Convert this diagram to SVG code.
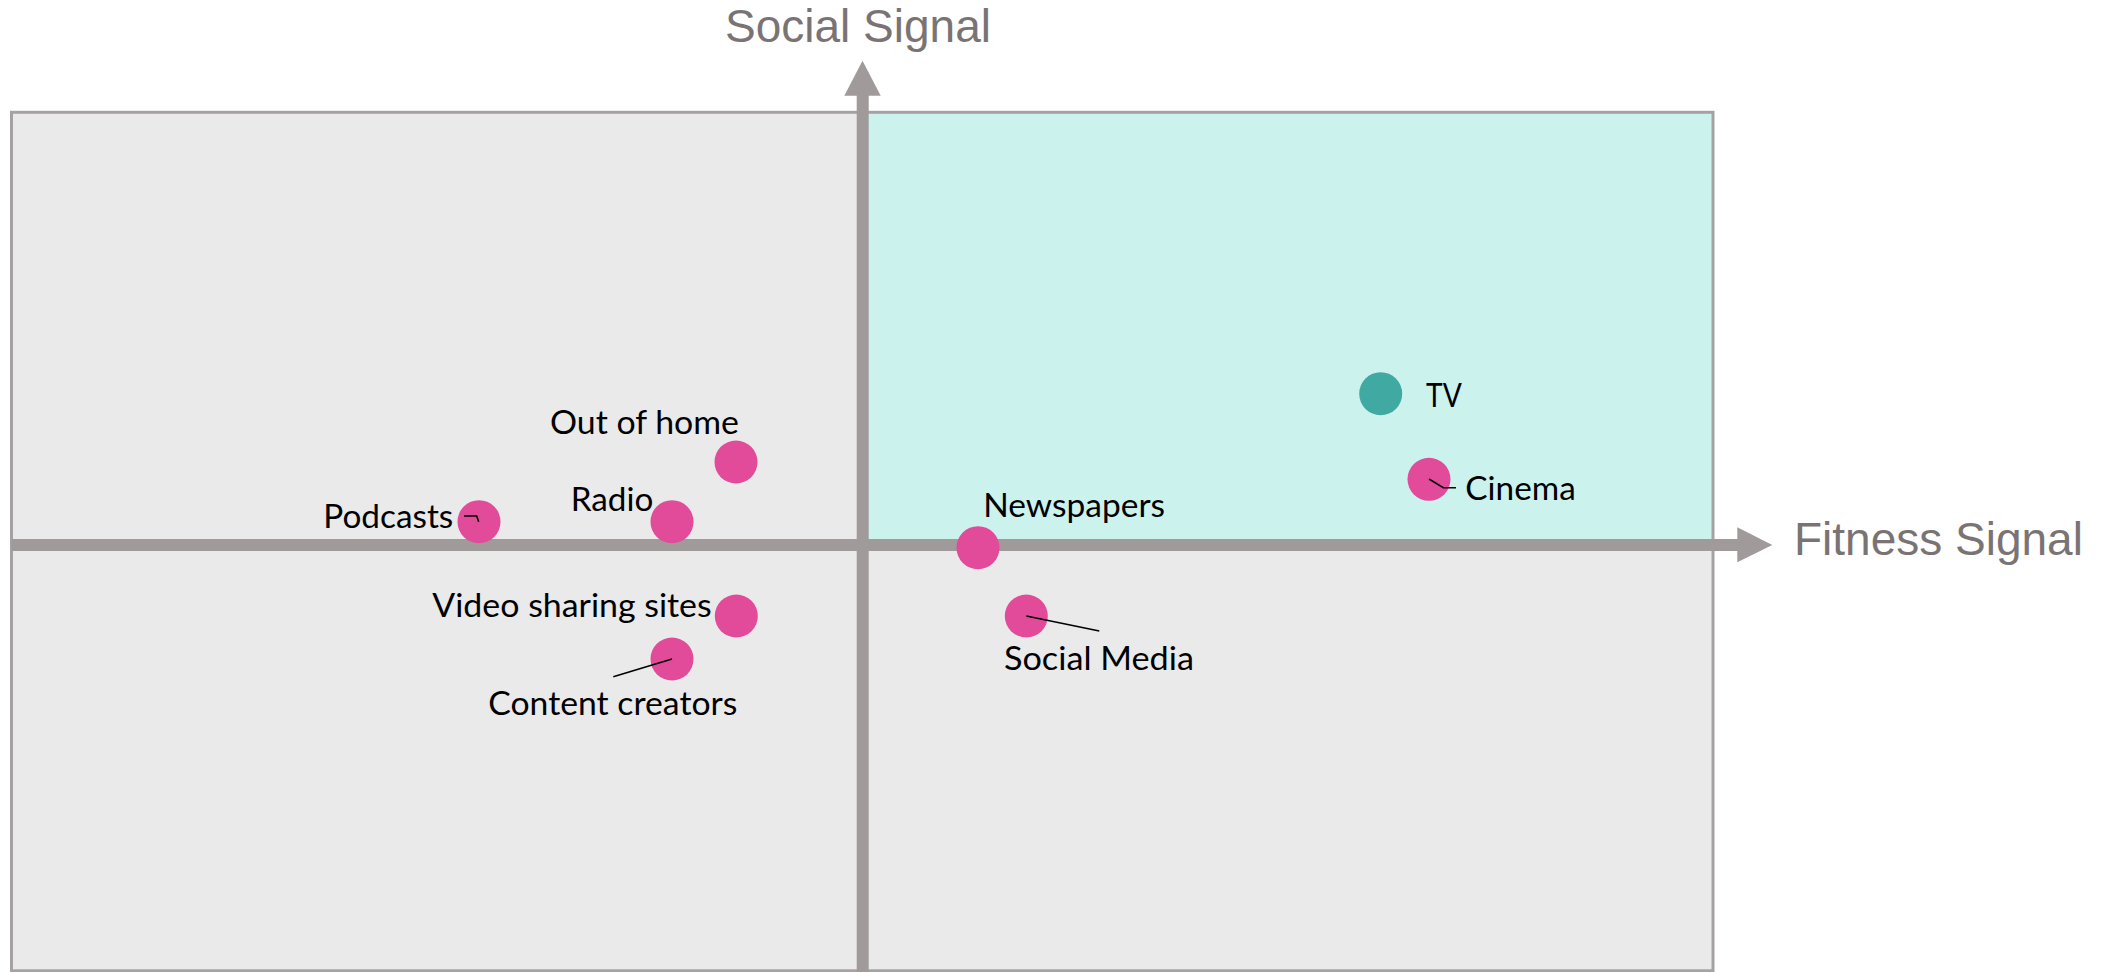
<svg xmlns="http://www.w3.org/2000/svg" width="2116" height="972" viewBox="0 0 2116 972">
  <style>
    .bg { fill: #EAEAEA; }
    .hi { fill: #CCF2EE; }
    .frame { fill: none; stroke: #A6A2A3; stroke-width: 3; }
    .axis { fill: #A09A9B; }
    .title { font-family: "Liberation Sans", Arial, sans-serif; font-size: 46px; fill: #7A7374; }
    .dot { fill: #E24A9A; }
    .dot-tv { fill: #40A9A1; }
    .lbl { font-family: Lato, "Noto Sans", sans-serif; font-size: 33px; fill: #000000; }
    .lead { fill: none; stroke: #000000; stroke-width: 1.6; }
  </style>

  <g id="background">
    <rect class="bg" x="11.5" y="112.3" width="1701.5" height="858.5"/>
    <rect class="hi" x="862.5" y="112.3" width="850.5" height="432.7"/>
    <rect class="frame" x="11.5" y="112.3" width="1701.5" height="858.5"/>
  </g>

  <g id="axes">
    <rect class="axis" x="856.7" y="94" width="12" height="878"/>
    <polygon class="axis" points="862.5,60.7 844.3,95.7 880.7,95.7"/>
    <rect class="axis" x="11.5" y="539" width="1727" height="12"/>
    <polygon class="axis" points="1772.3,545 1737.3,527.3 1737.3,562.3"/>
    <text id="y-title" class="title" x="725" y="42">Social Signal</text>
    <text id="x-title" class="title" x="1794" y="555">Fitness Signal</text>
  </g>

  <g id="out-of-home">
    <circle class="dot" cx="736" cy="462" r="21.5"/>
    <text class="lbl" x="550" y="434" textLength="189" lengthAdjust="spacingAndGlyphs">Out of home</text>
  </g>
  <g id="radio">
    <circle class="dot" cx="672" cy="521.7" r="21.5"/>
    <text class="lbl" x="570.7" y="511" textLength="82.6" lengthAdjust="spacingAndGlyphs">Radio</text>
  </g>
  <g id="podcasts">
    <circle class="dot" cx="479" cy="521.7" r="21.5"/>
    <text class="lbl" x="323.3" y="528.3" textLength="130" lengthAdjust="spacingAndGlyphs">Podcasts</text>
  </g>
  <g id="video-sharing-sites">
    <circle class="dot" cx="736.3" cy="616" r="21.5"/>
    <text class="lbl" x="432.3" y="616.7" textLength="279.4" lengthAdjust="spacingAndGlyphs">Video sharing sites</text>
  </g>
  <g id="content-creators">
    <circle class="dot" cx="672" cy="659" r="21.5"/>
    <text class="lbl" x="488.3" y="715" textLength="249" lengthAdjust="spacingAndGlyphs">Content creators</text>
  </g>
  <g id="newspapers">
    <circle class="dot" cx="978" cy="547.7" r="21.5"/>
    <text class="lbl" x="983.3" y="516.7" textLength="181.7" lengthAdjust="spacingAndGlyphs">Newspapers</text>
  </g>
  <g id="social-media">
    <circle class="dot" cx="1026.3" cy="616" r="21.5"/>
    <text class="lbl" x="1004" y="670" textLength="190" lengthAdjust="spacingAndGlyphs">Social Media</text>
  </g>
  <g id="tv">
    <circle class="dot-tv" cx="1380.7" cy="393.7" r="21.5"/>
    <text class="lbl" x="1426" y="406.7" textLength="35.7" lengthAdjust="spacingAndGlyphs">TV</text>
  </g>
  <g id="cinema">
    <circle class="dot" cx="1429" cy="479.3" r="21.5"/>
    <text class="lbl" x="1465.3" y="500" textLength="110.4" lengthAdjust="spacingAndGlyphs">Cinema</text>
  </g>

  <g id="connectors">
    <polyline class="lead" points="464,516 476.7,516 478.7,521.7"/>
    <line class="lead" x1="672" y1="659" x2="613.3" y2="676.7"/>
    <line class="lead" x1="1026.3" y1="616" x2="1099.3" y2="631"/>
    <polyline class="lead" points="1429,479 1443.3,487.7 1456,487.7"/>
  </g>
</svg>
